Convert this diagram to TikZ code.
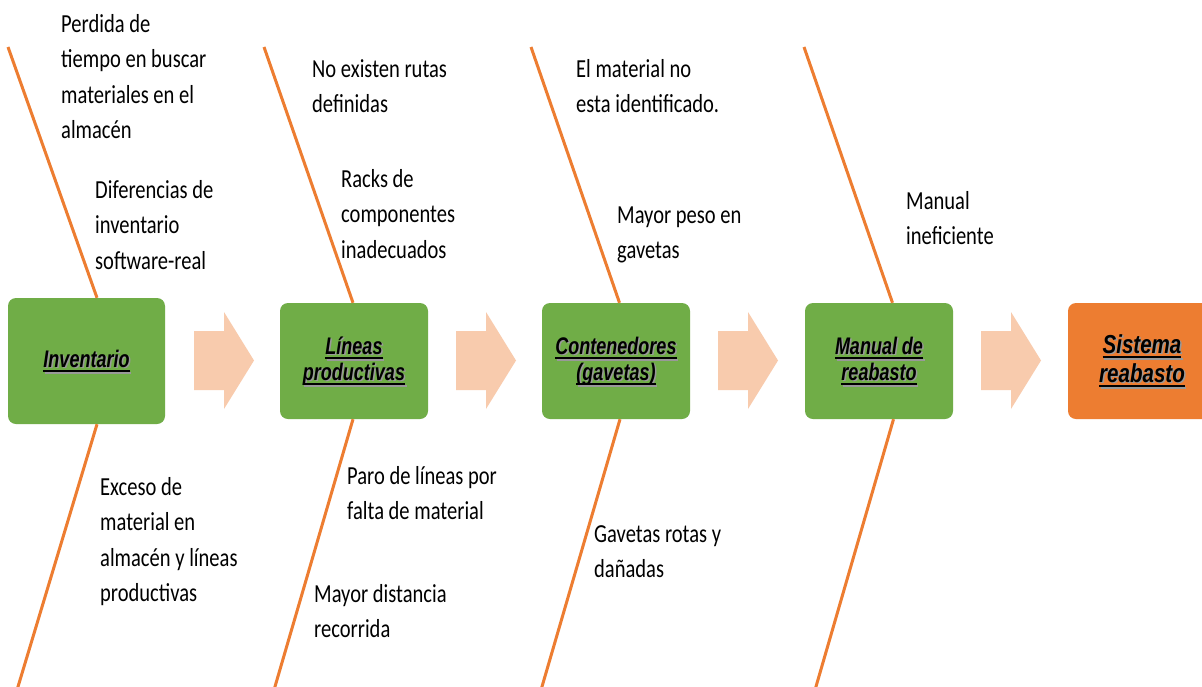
\documentclass[tikz,border=0pt]{standalone}
\usepackage{fontspec}
\setmainfont{Carlito}[FakeStretch=0.79]
\newfontfamily\boxfont{Liberation Sans}[FakeStretch=0.75]
\newfontfamily\boxfontb{Liberation Sans}[FakeStretch=0.79]
\definecolor{boxgreen}{HTML}{70AD47}
\definecolor{boneorange}{HTML}{ED7D31}
\definecolor{arrowpeach}{HTML}{F8CBAD}
\newsavebox{\bulbox}
\newcommand{\bul}[1]{\sbox{\bulbox}{#1}\rlap{\rule[-5pt]{\wd\bulbox}{2.2pt}}\usebox{\bulbox}}
\newcommand{\causetext}[1]{\begin{tabular}[t]{@{}l@{}}#1\end{tabular}}
\tikzset{
  gbox/.style={fill=boxgreen, rounded corners=8pt, draw=none, inner sep=0pt,
    minimum width=148pt, minimum height=116pt},
  obox/.style={gbox, fill=boneorange},
  bone/.style={draw=boneorange, line width=3pt},
  arrowshape/.style={fill=arrowpeach, draw=none},
  cause/.style={anchor=base west, inner sep=0pt, text=black,
    font=\fontsize{26}{35.5}\selectfont},
  blabel/.style={align=center, inner sep=0pt, text=black,
    font=\boxfont\bfseries\itshape\fontsize{24}{26}\selectfont},
  blabelbig/.style={blabel,
    font=\boxfontb\bfseries\itshape\fontsize{26}{29}\selectfont},
  shadow/.style={text=black!40},
}
\begin{document}
\begin{tikzpicture}[x=1pt, y=-1pt]
\clip (0,0) rectangle (1202,686);
\fill[white] (0,0) rectangle (1202,686);

% free ends of the bones
\coordinate (u1) at (8,47);
\coordinate (d1) at (17,690);
\coordinate (u2) at (264,47);
\coordinate (d2) at (274,690);
\coordinate (u3) at (531,47);
\coordinate (d3) at (541,690);
\coordinate (u4) at (804,47);
\coordinate (d4) at (815,690);

% boxes
\node[gbox, minimum width=157pt, minimum height=126pt] (b1) at (86.5,361) {};
\node[gbox] (b2) at (354,361) {};
\node[gbox] (b3) at (616,361) {};
\node[gbox] (b4) at (879,361) {};
\node[obox] (b5) at (1142,361) {};

% bones
\draw[bone] (u1) -- ([xshift=10.5pt]b1.north);
\draw[bone] ([xshift=10.5pt]b1.south) -- (d1);
\draw[bone] (u2) -- ([xshift=-1pt]b2.north);
\draw[bone] ([xshift=-1pt]b2.south) -- (d2);
\draw[bone] (u3) -- ([xshift=3.5pt]b3.north);
\draw[bone] ([xshift=4pt]b3.south) -- (d3);
\draw[bone] (u4) -- ([xshift=13.5pt]b4.north);
\draw[bone] ([xshift=14.5pt]b4.south) -- (d4);

% block arrows
\foreach \ax in {194,456,718,981}{
  \fill[arrowshape] (\ax,331) -- (\ax+30,331) -- (\ax+30,312) -- (\ax+60,360.5)
    -- (\ax+30,409) -- (\ax+30,390) -- (\ax,390) -- cycle;
}

% box labels (shadow, then text)
\node[blabel, shadow] (s1) at ([shift={(1.5,1.5)}]b1.center) {\bul{Inventario}};
\node[blabel] (l1) at (b1.center) {\bul{Inventario}};
\node[blabel, shadow] (s2) at ([shift={(1.5,1.5)}]b2.center) {\bul{Líneas}\\\bul{productivas}};
\node[blabel] (l2) at (b2.center) {\bul{Líneas}\\\bul{productivas}};
\node[blabel, shadow] (s3) at ([shift={(1.5,1.5)}]b3.center) {\bul{Contenedores}\\\bul{(gavetas)}};
\node[blabel] (l3) at (b3.center) {\bul{Contenedores}\\\bul{(gavetas)}};
\node[blabel, shadow] (s4) at ([shift={(1.5,1.5)}]b4.center) {\bul{Manual de}\\\bul{reabasto}};
\node[blabel] (l4) at (b4.center) {\bul{Manual de}\\\bul{reabasto}};
\node[blabelbig, shadow] (s5) at ([shift={(1.5,1.5)}]b5.center) {\bul{Sistema}\\\bul{reabasto}};
\node[blabelbig] (l5) at (b5.center) {\bul{Sistema}\\\bul{reabasto}};

% causes
\node[cause] (c1) at (61,32) {\causetext{Perdida de\\tiempo en buscar\\materiales en el\\almacén}};
\node[cause] (c2) at (95,198) {\causetext{Diferencias de\\inventario\\software-real}};
\node[cause] (c3) at (312,77) {\causetext{No existen rutas\\definidas}};
\node[cause] (c4) at (341,187) {\causetext{Racks de\\componentes\\inadecuados}};
\node[cause] (c5) at (576,77) {\causetext{El material no\\esta identificado.}};
\node[cause] (c6) at (617,223) {\causetext{Mayor peso en\\gavetas}};
\node[cause] (c7) at (906,209) {\causetext{Manual\\ineficiente}};
\node[cause] (c8) at (100,495) {\causetext{Exceso de\\material en\\almacén y líneas\\productivas}};
\node[cause] (c9) at (347,484) {\causetext{Paro de líneas por\\falta de material}};
\node[cause] (c10) at (314,602) {\causetext{Mayor distancia\\recorrida}};
\node[cause] (c11) at (594,542) {\causetext{Gavetas rotas y\\dañadas}};
\end{tikzpicture}
\end{document}
